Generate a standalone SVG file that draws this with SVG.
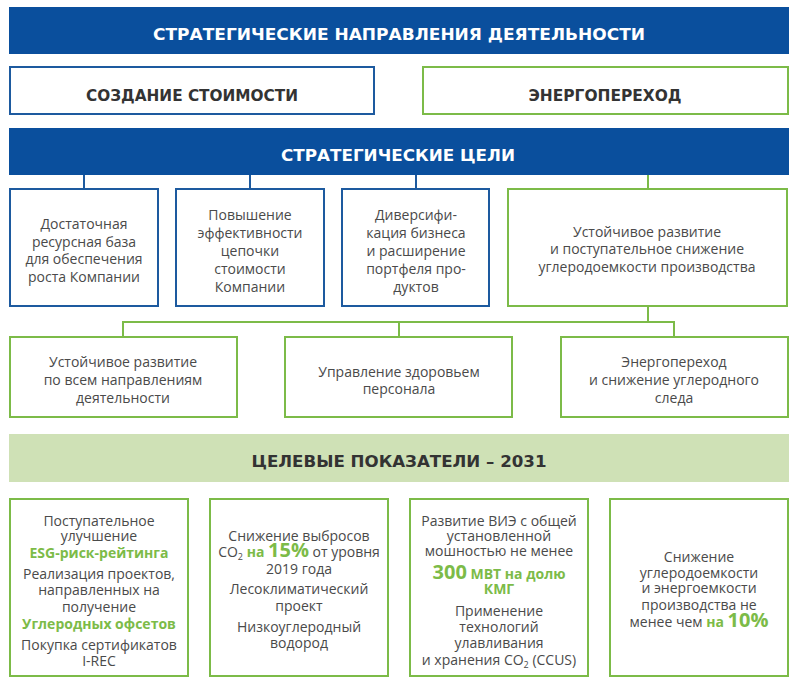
<svg xmlns="http://www.w3.org/2000/svg" width="797" height="686" viewBox="0 0 797 686">
<style>
.hdr{fill:#0a4f9d}
.band{fill:#cfe1b6}
.bb{fill:#fff;stroke:#1d5a9f;stroke-width:2}
.gb{fill:#fff;stroke:#7cbb48;stroke-width:2}
.ht{font-family:"DejaVu Sans","Open Sans",sans-serif;font-weight:700;font-size:16px;fill:#fff;text-anchor:middle}
.tt{font-family:"DejaVu Sans","Open Sans",sans-serif;font-weight:700;font-size:16px;fill:#333;text-anchor:middle}
.t{font-family:"Open Sans","Noto Sans",sans-serif;font-size:14px;fill:#4a4a4a;text-anchor:middle}
.g{font-weight:700;fill:#7cbb48}
.big{font-size:20px}
.sub{font-size:9px}
.cb{stroke:#1d5a9f;stroke-width:2;fill:none}
.cg{stroke:#7cbb48;stroke-width:2;fill:none}
</style>
<g id="connectors">
<line class="cb" x1="84" y1="175" x2="84" y2="188"/>
<line class="cb" x1="250" y1="175" x2="250" y2="188"/>
<line class="cb" x1="416" y1="175" x2="416" y2="188"/>
<line class="cg" x1="648" y1="175" x2="648" y2="188"/>
<line class="cg" x1="648" y1="307" x2="648" y2="322"/>
<polyline class="cg" points="123,336 123,322 674,322 674,336"/>
<line class="cg" x1="399" y1="322" x2="399" y2="336"/>
</g>
<g id="header-directions">
<rect class="hdr" x="9" y="7" width="780" height="47"/>
<text class="ht" x="399" y="40" textLength="492" lengthAdjust="spacingAndGlyphs">СТРАТЕГИЧЕСКИЕ НАПРАВЛЕНИЯ ДЕЯТЕЛЬНОСТИ</text>
</g>
<g id="value-creation">
<rect class="bb" x="10" y="67" width="364" height="47"/>
<text class="tt" x="192" y="101" textLength="212" lengthAdjust="spacingAndGlyphs">СОЗДАНИЕ СТОИМОСТИ</text>
</g>
<g id="energy-transition">
<rect class="gb" x="423" y="67" width="365" height="47"/>
<text class="tt" x="605" y="101" textLength="153" lengthAdjust="spacingAndGlyphs">ЭНЕРГОПЕРЕХОД</text>
</g>
<g id="header-goals">
<rect class="hdr" x="9" y="128" width="780" height="47"/>
<text class="ht" x="398" y="161" textLength="234" lengthAdjust="spacingAndGlyphs">СТРАТЕГИЧЕСКИЕ ЦЕЛИ</text>
</g>
<g id="goal-resource">
<rect class="bb" x="10" y="189" width="148" height="117"/>
<text class="t" x="84" y="229">Достаточная</text>
<text class="t" x="84" y="247">ресурсная база</text>
<text class="t" x="84" y="264">для обеспечения</text>
<text class="t" x="84" y="282">роста Компании</text>
</g>
<g id="goal-efficiency">
<rect class="bb" x="176" y="189" width="148" height="117"/>
<text class="t" x="250" y="220">Повышение</text>
<text class="t" x="250" y="238">эффективности</text>
<text class="t" x="250" y="256">цепочки</text>
<text class="t" x="250" y="274">стоимости</text>
<text class="t" x="250" y="292">Компании</text>
</g>
<g id="goal-diversification">
<rect class="bb" x="342" y="189" width="147" height="117"/>
<text class="t" x="416" y="220">Диверсифи-</text>
<text class="t" x="416" y="238">кация бизнеса</text>
<text class="t" x="416" y="256">и расширение</text>
<text class="t" x="416" y="274">портфеля про-</text>
<text class="t" x="416" y="292">дуктов</text>
</g>
<g id="goal-sustainable">
<rect class="gb" x="508" y="189" width="279" height="117"/>
<text class="t" x="647" y="237">Устойчивое развитие</text>
<text class="t" x="647" y="254">и поступательное снижение</text>
<text class="t" x="647" y="272">углеродоемкости производства</text>
</g>
<g id="sub-sustainable">
<rect class="gb" x="10" y="337" width="227" height="80"/>
<text class="t" x="123" y="367">Устойчивое развитие</text>
<text class="t" x="123" y="385">по всем направлениям</text>
<text class="t" x="123" y="403">деятельности</text>
</g>
<g id="sub-health">
<rect class="gb" x="285" y="337" width="227" height="80"/>
<text class="t" x="399" y="377">Управление здоровьем</text>
<text class="t" x="399" y="394">персонала</text>
</g>
<g id="sub-energy">
<rect class="gb" x="561" y="337" width="227" height="80"/>
<text class="t" x="674" y="367">Энергопереход</text>
<text class="t" x="674" y="385">и снижение углеродного</text>
<text class="t" x="674" y="403">следа</text>
</g>
<g id="header-targets">
<rect class="band" x="9" y="434" width="780" height="48"/>
<text class="tt" x="399" y="467" textLength="295" lengthAdjust="spacingAndGlyphs">ЦЕЛЕВЫЕ ПОКАЗАТЕЛИ – 2031</text>
</g>
<g id="target-esg">
<rect class="gb" x="10" y="499" width="178" height="177"/>
<text class="t" x="99" y="526">Поступательное</text>
<text class="t" x="99" y="541">улучшение</text>
<text class="t g" x="99" y="558">ESG-риск-рейтинга</text>
<text class="t" x="99" y="579">Реализация проектов,</text>
<text class="t" x="99" y="595">направленных на</text>
<text class="t" x="99" y="612">получение</text>
<text class="t g" x="99" y="629">Углеродных офсетов</text>
<text class="t" x="99" y="650">Покупка сертификатов</text>
<text class="t" x="99" y="666">I-REC</text>
</g>
<g id="target-emissions">
<rect class="gb" x="210" y="499" width="178" height="177"/>
<text class="t" x="299" y="541">Снижение выбросов</text>
<text class="t" x="299" y="557">CO<tspan class="sub" dy="3">2</tspan><tspan dy="-3"> </tspan><tspan class="g">на </tspan><tspan class="g big">15%</tspan> от уровня</text>
<text class="t" x="299" y="574">2019 года</text>
<text class="t" x="299" y="594">Лесоклиматический</text>
<text class="t" x="299" y="611">проект</text>
<text class="t" x="299" y="632">Низкоуглеродный</text>
<text class="t" x="299" y="648">водород</text>
</g>
<g id="target-res">
<rect class="gb" x="410" y="499" width="178" height="177"/>
<text class="t" x="499" y="526">Развитие ВИЭ с общей</text>
<text class="t" x="499" y="541">установленной</text>
<text class="t" x="499" y="556">мошностью не менее</text>
<text class="t g" x="499" y="579"><tspan class="big">300</tspan> МВТ на долю</text>
<text class="t g" x="499" y="594">КМГ</text>
<text class="t" x="499" y="616">Применение</text>
<text class="t" x="499" y="632">технологий</text>
<text class="t" x="499" y="648">улавливания</text>
<text class="t" x="499" y="665">и хранения CO<tspan class="sub" dy="3">2</tspan><tspan dy="-3"> (CCUS)</tspan></text>
</g>
<g id="target-intensity">
<rect class="gb" x="610" y="499" width="178" height="177"/>
<text class="t" x="699" y="562">Снижение</text>
<text class="t" x="699" y="578">углеродоемкости</text>
<text class="t" x="699" y="593">и энергоемкости</text>
<text class="t" x="699" y="610">производства не</text>
<text class="t" x="699" y="627">менее чем <tspan class="g">на </tspan><tspan class="g big">10%</tspan></text>
</g>
</svg>
